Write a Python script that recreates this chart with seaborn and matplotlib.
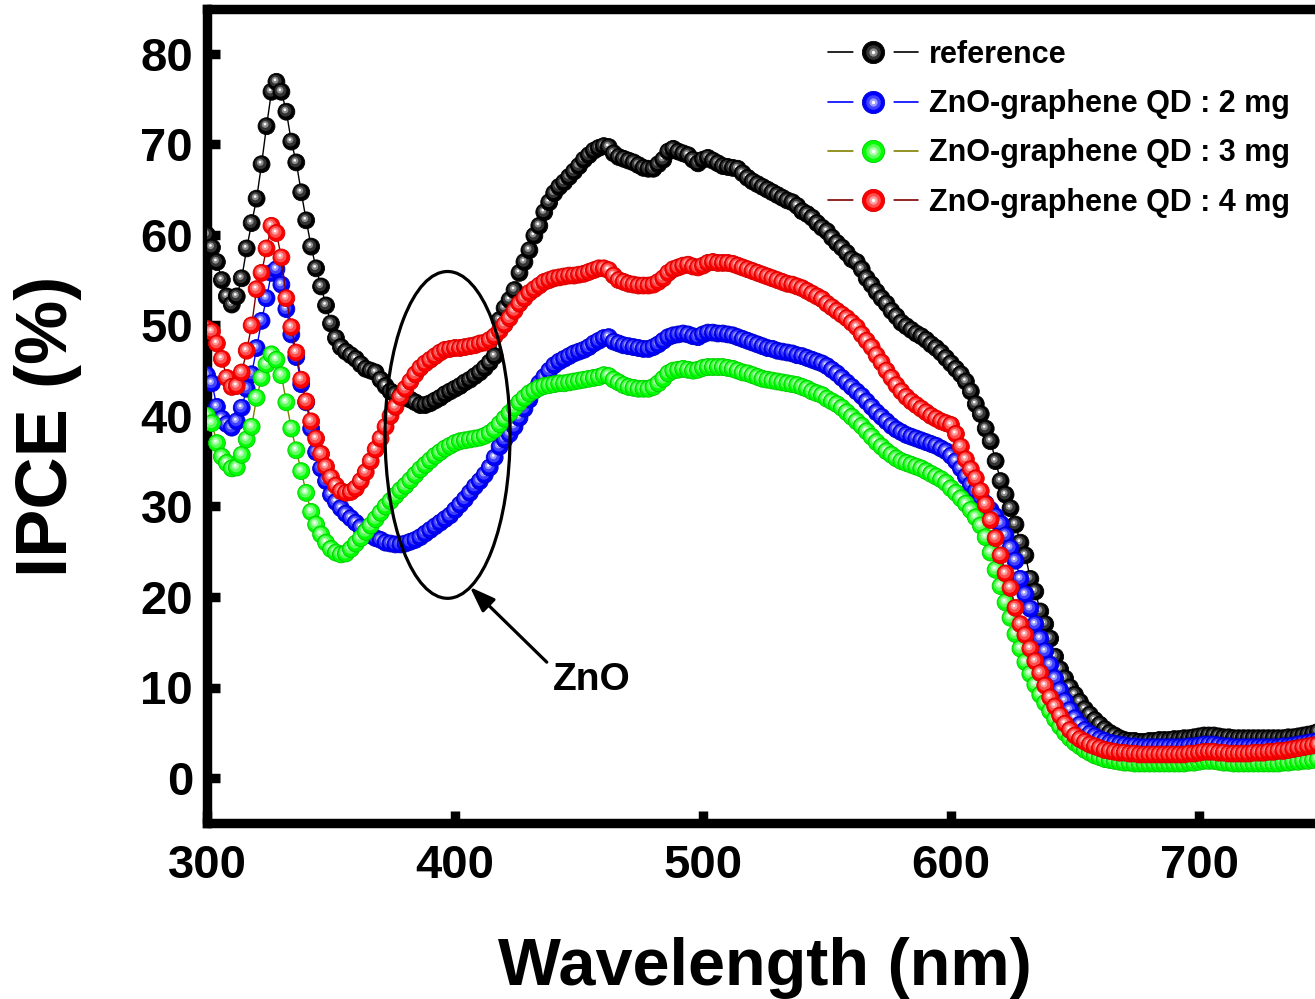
import numpy as np
import pandas as pd
import matplotlib
matplotlib.use("Agg")
import matplotlib.pyplot as plt
import matplotlib.transforms as mtransforms
import seaborn as sns
from matplotlib.path import Path
from matplotlib.collections import PathCollection
from matplotlib.patches import Ellipse
from matplotlib.lines import Line2D
from matplotlib.legend_handler import HandlerTuple
from matplotlib.ticker import FixedLocator, MultipleLocator

# ---------------- data ----------------
wavelength = np.arange(300, 750, 2)  # nm, 2 nm step: 300 ... 748

ipce_reference = [
    60.0, 58.6, 57.0, 55.0, 53.2, 52.3, 53.2, 55.2, 58.5, 61.3,
    64.0, 67.8, 72.0, 75.8, 76.9, 75.8, 73.6, 70.3, 68.0, 64.7,
    61.6, 58.7, 56.3, 54.3, 52.2, 50.2, 48.6, 47.6, 47.1, 46.7,
    46.3, 45.7, 45.2, 45.0, 44.8, 44.0, 43.3, 42.7, 42.4, 42.2,
    42.0, 41.8, 41.5, 41.2, 41.2, 41.4, 41.7, 42.0, 42.4, 42.7,
    43.0, 43.3, 43.7, 44.0, 44.4, 44.8, 45.3, 45.9, 46.6, 50.6,
    51.9, 52.8, 53.9, 55.8, 57.0, 58.3, 59.9, 61.0, 62.5, 63.6,
    64.6, 65.3, 65.8, 66.4, 67.0, 67.6, 68.3, 68.8, 69.3, 69.6,
    69.8, 69.7, 69.0, 68.6, 68.4, 68.2, 68.0, 67.7, 67.4, 67.3,
    67.3, 67.8, 68.3, 69.2, 69.5, 69.2, 69.0, 68.8, 68.3, 67.9,
    68.3, 68.5, 68.2, 67.9, 67.6, 67.5, 67.4, 67.3, 66.8, 66.3,
    65.9, 65.6, 65.3, 65.0, 64.7, 64.4, 64.1, 63.8, 63.6, 63.2,
    62.6, 62.3, 61.9, 61.3, 60.8, 60.4, 59.7, 59.1, 58.6, 58.0,
    57.3, 57.0, 56.2, 55.2, 54.5, 53.7, 53.0, 52.4, 51.6, 51.0,
    50.3, 49.9, 49.5, 49.1, 48.8, 48.4, 47.9, 47.5, 47.0, 46.4,
    45.8, 45.2, 44.6, 43.8, 42.7, 41.3, 40.2, 38.6, 37.2, 35.0,
    32.8, 31.3, 29.8, 28.0, 26.0, 24.6, 22.0, 20.6, 18.4, 17.0,
    15.4, 13.4, 12.0, 11.0, 10.0, 9.2, 8.4, 7.6, 7.0, 6.4,
    5.9, 5.4, 5.0, 4.7, 4.4, 4.2, 4.1, 4.1, 4.0, 4.0,
    4.1, 4.1, 4.2, 4.2, 4.2, 4.3, 4.3, 4.4, 4.4, 4.5,
    4.6, 4.7, 4.7, 4.7, 4.6, 4.5, 4.5, 4.4, 4.4, 4.4,
    4.4, 4.4, 4.4, 4.4, 4.4, 4.4, 4.4, 4.4, 4.5, 4.5,
    4.6, 4.7, 4.8, 4.9, 5.1,
]

ipce_2mg = [
    44.5, 43.6, 41.0, 39.7, 39.1, 38.7, 39.4, 40.9, 43.0, 44.6,
    47.5, 50.5, 53.0, 55.8, 56.2, 54.5, 51.8, 49.0, 46.5, 43.5,
    41.5, 38.6, 36.0, 34.2, 32.8, 31.3, 30.5, 29.8, 29.2, 28.7,
    28.2, 27.7, 27.2, 26.8, 26.5, 26.3, 26.0, 25.9, 25.8, 25.8,
    25.9, 26.1, 26.3, 26.6, 27.0, 27.4, 27.8, 28.2, 28.6, 29.0,
    29.6, 30.2, 30.8, 31.5, 32.2, 32.8, 33.5, 34.3, 35.4, 36.6,
    37.4, 38.0, 38.8, 39.8, 40.8, 41.8, 42.8, 43.6, 44.3, 45.0,
    45.6, 46.0, 46.3, 46.6, 46.9, 47.1, 47.3, 47.6, 48.0, 48.3,
    48.6, 48.7, 48.2, 48.0, 47.8, 47.7, 47.6, 47.5, 47.4, 47.4,
    47.6, 47.9, 48.3, 48.7, 48.9, 49.0, 49.1, 49.0, 48.8, 48.7,
    49.0, 49.2, 49.2, 49.1, 49.1, 49.0, 48.9, 48.7, 48.5, 48.3,
    48.1, 47.9, 47.7, 47.5, 47.4, 47.2, 47.1, 47.0, 46.9, 46.7,
    46.6, 46.4, 46.2, 46.0, 45.8, 45.5, 45.1, 44.7, 44.2, 43.7,
    43.2, 42.7, 42.2, 41.6, 41.0, 40.4, 39.9, 39.4, 38.9, 38.5,
    38.2, 37.9, 37.7, 37.5, 37.3, 37.1, 36.9, 36.7, 36.4, 36.1,
    35.6, 35.0, 34.2, 33.3, 32.4, 31.7, 31.0, 30.3, 29.6, 28.9,
    28.1, 26.8, 25.4, 24.0, 22.0, 20.3, 18.7, 17.0, 15.4, 14.0,
    12.5, 11.0, 9.7, 8.5, 7.5, 6.6, 5.9, 5.3, 4.9, 4.6,
    4.3, 4.1, 3.9, 3.8, 3.7, 3.6, 3.5, 3.5, 3.4, 3.4,
    3.4, 3.4, 3.4, 3.4, 3.4, 3.4, 3.4, 3.4, 3.5, 3.5,
    3.6, 3.7, 3.7, 3.7, 3.6, 3.5, 3.5, 3.4, 3.4, 3.4,
    3.4, 3.4, 3.4, 3.4, 3.4, 3.4, 3.4, 3.5, 3.5, 3.6,
    3.7, 3.8, 3.9, 4.0, 4.1,
]

ipce_3mg = [
    40.0, 39.2, 37.0, 35.5, 34.8, 34.2, 34.3, 35.7, 37.4, 38.8,
    42.0, 44.2, 45.7, 46.8, 46.2, 44.5, 41.5, 38.6, 36.2, 33.9,
    31.5, 29.4, 28.0, 26.9, 26.0, 25.3, 24.9, 24.7, 24.8, 25.3,
    25.9, 26.5, 27.2, 27.9, 28.6, 29.3, 30.0, 30.6, 31.2, 31.8,
    32.3, 32.9, 33.5, 34.1, 34.6, 35.1, 35.6, 36.0, 36.4, 36.7,
    37.0, 37.2, 37.3, 37.4, 37.5, 37.6, 37.8, 38.1, 38.5, 39.1,
    39.7, 40.3, 40.9, 41.5, 42.0, 42.5, 42.8, 43.1, 43.3, 43.4,
    43.5, 43.6, 43.6, 43.7, 43.8, 43.9, 44.0, 44.1, 44.2, 44.3,
    44.5, 44.4, 44.0, 43.7, 43.4, 43.2, 43.1, 43.0, 43.0, 43.0,
    43.2, 43.6, 44.1, 44.7, 45.0, 45.1, 45.2, 45.1, 45.0, 45.1,
    45.3, 45.4, 45.4, 45.4, 45.4, 45.3, 45.2, 45.0, 44.8, 44.7,
    44.5, 44.3, 44.1, 44.0, 43.9, 43.8, 43.7, 43.6, 43.5, 43.4,
    43.2, 43.0, 42.7, 42.5, 42.3, 41.9, 41.6, 41.3, 40.9, 40.4,
    39.9, 39.4, 38.9, 38.3, 37.7, 37.1, 36.6, 36.1, 35.7, 35.3,
    35.0, 34.8, 34.6, 34.4, 34.2, 33.9, 33.6, 33.3, 33.0, 32.6,
    32.0, 31.5, 30.9, 30.3, 29.6, 28.8, 27.9, 26.6, 24.9, 23.0,
    21.2, 19.4, 17.7, 15.9, 14.3, 12.8, 11.5, 10.3, 9.2, 8.3,
    7.4, 6.5, 5.7, 5.0, 4.4, 3.9, 3.5, 3.1, 2.8, 2.5,
    2.3, 2.1, 2.0, 1.9, 1.8, 1.7, 1.7, 1.6, 1.6, 1.6,
    1.6, 1.6, 1.6, 1.6, 1.6, 1.6, 1.6, 1.6, 1.7, 1.7,
    1.8, 1.9, 1.9, 1.9, 1.8, 1.7, 1.7, 1.6, 1.6, 1.6,
    1.6, 1.6, 1.6, 1.6, 1.6, 1.6, 1.6, 1.7, 1.7, 1.8,
    1.8, 1.9, 1.9, 2.0, 2.1,
]

ipce_4mg = [
    49.6, 49.3, 48.0, 46.3, 44.2, 43.2, 43.3, 44.8, 47.2, 50.0,
    54.0, 55.8, 58.5, 61.0, 60.2, 57.5, 53.0, 49.8, 47.0, 44.0,
    41.6, 39.4, 37.5, 35.8, 34.4, 33.2, 32.3, 31.7, 31.5, 31.6,
    32.0, 32.8, 33.8, 35.0, 36.3, 37.5, 38.8, 40.0, 41.0, 42.1,
    43.0, 43.8, 44.6, 45.3, 45.8, 46.2, 46.6, 47.0, 47.3, 47.4,
    47.5, 47.5, 47.6, 47.7, 47.8, 48.0, 48.1, 48.4, 48.8, 49.4,
    50.1, 50.8, 51.6, 52.4, 53.0, 53.6, 54.0, 54.4, 54.8, 55.0,
    55.2, 55.3, 55.4, 55.5, 55.5, 55.6, 55.7, 55.9, 56.1, 56.3,
    56.3, 56.1, 55.5, 55.0, 54.8, 54.6, 54.5, 54.4, 54.4, 54.4,
    54.5, 54.8, 55.2, 55.8, 56.2, 56.4, 56.6, 56.7, 56.5, 56.4,
    56.6, 56.9, 57.0, 56.9, 56.9, 56.9, 56.8, 56.6, 56.4, 56.2,
    56.0, 55.8, 55.6, 55.4, 55.2, 55.0, 54.8, 54.6, 54.5, 54.3,
    54.1, 53.8, 53.5, 53.2, 52.9, 52.4, 52.0, 51.6, 51.2, 50.8,
    50.3, 49.8, 49.0, 48.3, 47.6, 46.7, 45.9, 45.0, 44.2, 43.4,
    42.7, 42.1, 41.6, 41.2, 40.8, 40.4, 40.0, 39.7, 39.4, 39.2,
    39.0, 38.0, 36.6, 35.2, 34.1, 33.1, 31.7, 30.2, 28.5, 26.5,
    24.6, 22.6, 21.0, 18.8, 17.0, 15.8, 14.3, 12.9, 11.6, 10.2,
    8.9, 7.9, 6.9, 6.0, 5.3, 4.7, 4.3, 4.0, 3.7, 3.5,
    3.3, 3.1, 3.0, 2.9, 2.8, 2.8, 2.7, 2.7, 2.6, 2.6,
    2.6, 2.6, 2.6, 2.6, 2.6, 2.6, 2.6, 2.6, 2.7, 2.7,
    2.8, 2.9, 2.9, 2.9, 2.8, 2.8, 2.7, 2.7, 2.7, 2.7,
    2.7, 2.8, 2.8, 2.8, 2.9, 2.9, 3.0, 3.0, 3.1, 3.2,
    3.3, 3.4, 3.5, 3.6, 3.7,
]

series_labels = ["reference", "ZnO-graphene QD : 2 mg",
                 "ZnO-graphene QD : 3 mg", "ZnO-graphene QD : 4 mg"]
series_values = [ipce_reference, ipce_2mg, ipce_3mg, ipce_4mg]
x_ticks = [300, 400, 500, 600, 700]
y_ticks = [0, 10, 20, 30, 40, 50, 60, 70, 80]
x_label = "Wavelength (nm)"
y_label = "IPCE (%)"
annot_text = "ZnO"

# ---------------- styles ----------------
ball_face = ["#000000", "#0000ff", "#00ff00", "#ff0000"]
ball_ring = ["#333333", "#4040ff", "#5cff5c", "#ff5050"]
ball_mid = ["#8c8c8c", "#9a9aff", "#b0ffb0", "#ffa0a0"]
ball_edge = ["#000000", "#0000c8", "#00c800", "#d00000"]
line_col = ["#000000", "#0000ff", "#808000", "#800000"]

sns.set_theme(style="ticks", rc={
    "axes.edgecolor": "black", "text.color": "black",
    "axes.labelcolor": "black", "xtick.color": "black",
    "ytick.color": "black"})
plt.rcParams["font.family"] = ["Liberation Sans", "DejaVu Sans"]
plt.rcParams["font.weight"] = "bold"

W, H = 1315, 999
fig = plt.figure(figsize=(W / 100, H / 100), dpi=100)
ax_left, ax_right = 207, 1323
ax_top, ax_bot = 8.5, 823.3
ax = fig.add_axes([ax_left / W, (H - ax_bot) / H,
                   (ax_right - ax_left) / W, (ax_bot - ax_top) / H])

df = pd.concat([pd.DataFrame({"wavelength": wavelength, "ipce": v, "sample": lab})
                for lab, v in zip(series_labels, series_values)], ignore_index=True)


def circ(r, dx, dy):
    c = Path.unit_circle()
    return Path(c.vertices * r + np.array([dx, dy]), c.codes)


ball_paths = [circ(1.0, 0, 0), circ(0.70, -0.10, 0.12),
              circ(0.40, -0.16, 0.20), circ(0.16, -0.18, 0.24)]
ball_size = 37.0  # points^2 -> radius ~ 8.4 px

for k, lab in enumerate(series_labels):
    sub = df[df["sample"] == lab]
    sns.lineplot(data=sub, x="wavelength", y="ipce", color=line_col[k],
                 linewidth=1.0, ax=ax, zorder=2 + 2 * k, legend=False,
                 errorbar=None)
    pts = np.column_stack([sub["wavelength"].to_numpy(), sub["ipce"].to_numpy()])
    offs = np.repeat(pts, len(ball_paths), axis=0)
    pc = PathCollection(ball_paths, sizes=[ball_size], offsets=offs,
                        offset_transform=ax.transData,
                        facecolors=[ball_face[k], ball_ring[k], ball_mid[k], "#ffffff"],
                        edgecolors=[ball_edge[k], "none", "none", "none"],
                        linewidths=[0.6, 0, 0, 0], zorder=3 + 2 * k)
    pc.set_transform(mtransforms.IdentityTransform())
    ax.add_collection(pc, autolim=False)

ax.set_xlim(300, 750)
ax.set_ylim(-5, 85)

# axes frame and ticks
for s in ["left", "bottom", "top"]:
    ax.spines[s].set_linewidth(6.8)
    ax.spines[s].set_color("black")
ax.spines["right"].set_visible(False)
ax.xaxis.set_major_locator(FixedLocator(x_ticks))
ax.xaxis.set_minor_locator(MultipleLocator(50))
ax.yaxis.set_major_locator(FixedLocator(y_ticks))
ax.yaxis.set_minor_locator(MultipleLocator(5))
ax.tick_params(axis="both", which="major", direction="in", length=9, width=6.8,
               labelsize=34)
ax.tick_params(axis="x", which="major", pad=15)
ax.tick_params(axis="y", which="major", pad=10)
ax.tick_params(axis="both", which="minor", direction="in", length=3, width=6.8)
ax.tick_params(axis="x", which="both", top=False)
ax.tick_params(axis="y", which="both", right=False)
for t in ax.get_xticklabels() + ax.get_yticklabels():
    t.set_fontweight("bold")

ax.set_xlabel(x_label, fontsize=48, fontweight="bold")
ax.xaxis.set_label_coords(0.5, (ax_bot - 985) / (ax_bot - ax_top))
ax.xaxis.label.set_va("baseline")
ax.set_ylabel(y_label, fontsize=52, fontweight="bold")
ax.yaxis.set_label_coords((48 - ax_left) / (ax_right - ax_left),
                          (ax_bot - 426) / (ax_bot - ax_top))
ax.yaxis.label.set_va("center")
ax.yaxis.label.set_ha("center")

# ellipse + arrow + text annotation
ax.add_patch(Ellipse((397.0, 37.9), width=50.4, height=36.1, fill=False,
                     lw=2.3, ec="black", zorder=20))
ax.annotate("", xy=(406.0, 21.1), xytext=(437.0, 12.8),
            arrowprops=dict(arrowstyle="-|>,head_length=0.55,head_width=0.2",
                            mutation_scale=28, lw=2.3, color="black",
                            shrinkA=0, shrinkB=0), zorder=20)
ax.text(455.2, 9.7, annot_text, fontsize=28, fontweight="bold",
        ha="center", va="baseline", zorder=20)

# legend
handles = []
for k in range(4):
    handles.append((
        Line2D([], [], color=line_col[k], lw=1.2),
        Line2D([], [], ls="none", marker="o", ms=29, mfc="white", mec="none"),
        Line2D([], [], ls="none", marker="o", ms=16, mfc=ball_face[k],
               mec=ball_edge[k], mew=0.6),
        Line2D([], [], ls="none", marker="o", ms=10.5, mfc=ball_ring[k], mec="none"),
        Line2D([], [], ls="none", marker="o", ms=6, mfc=ball_mid[k], mec="none"),
        Line2D([], [], ls="none", marker="o", ms=2.5, mfc="white", mec="none"),
    ))
leg = ax.legend(handles, series_labels,
                handler_map={tuple: HandlerTuple(ndivide=1, pad=0)},
                loc="upper left",
                bbox_to_anchor=((828 - ax_left) / (ax_right - ax_left),
                                (ax_bot - 40) / (ax_bot - ax_top)),
                frameon=False, borderpad=0, borderaxespad=0,
                handlelength=2.94, handletextpad=0.36, labelspacing=0.63,
                prop={"size": 22, "weight": "bold"})
leg.set_zorder(30)

fig.savefig("out.png", dpi=100)
